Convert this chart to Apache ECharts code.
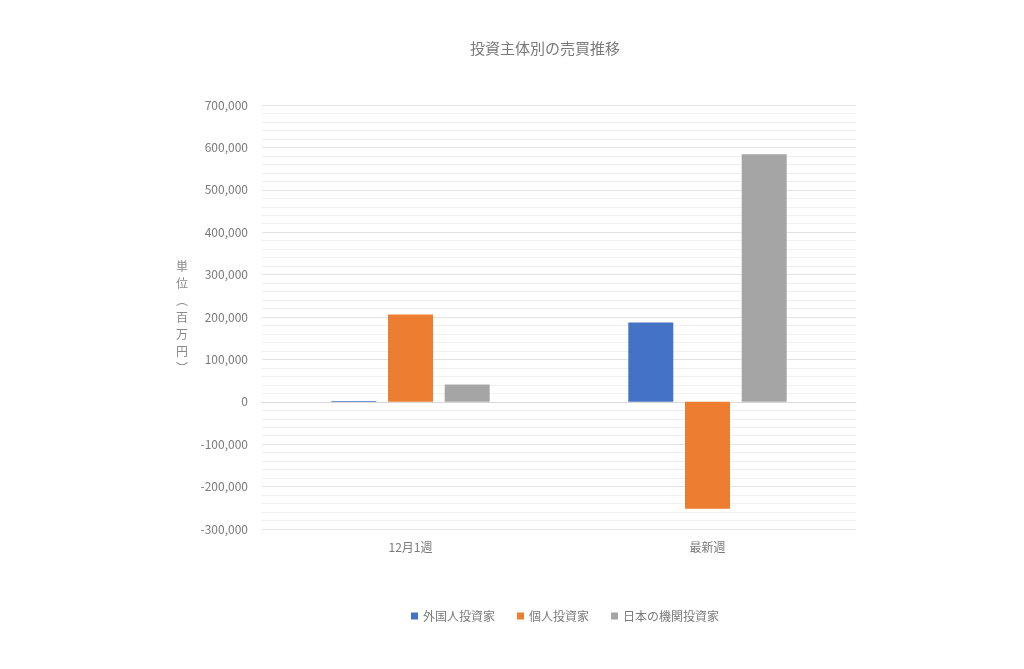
<!DOCTYPE html>
<html>
<head>
<meta charset="utf-8">
<script src="https://cdn.jsdelivr.net/npm/echarts@6/dist/echarts.min.js"></script>
<style>
  html, body { margin: 0; padding: 0; background: #fff; }
  #chart { width: 1024px; height: 669px; }
</style>
</head>
<body>
<div id="chart"></div>
<script>
const categories = ['12月1週', '最新週'];
const seriesNames = ['外国人投資家', '個人投資家', '日本の機関投資家'];
const foreignValues = [2000, 187000];
const individualValues = [206000, -252000];
const institutionValues = [41000, 584000];
const colors = ['#4472c4', '#ed7d31', '#a5a5a5'];

const font = '"Noto Sans CJK JP", "Noto Sans", sans-serif';
const textGray = '#7a7a7a';
const myChart = echarts.init(document.getElementById('chart'));

myChart.setOption({
  textStyle: { fontFamily: font },
  title: {
    text: '投資主体別の売買推移',
    left: 465,
    top: 36,
    textStyle: { fontSize: 15, fontWeight: 'normal', color: textGray, fontFamily: font }
  },
  legend: {
    bottom: 42,
    left: 406,
    itemWidth: 7,
    itemHeight: 7,
    itemGap: 22,
    icon: 'rect',
    textStyle: { fontSize: 12, color: textGray, fontFamily: font },
    data: seriesNames
  },
  grid: { left: 262, right: 168, top: 105, bottom: 140 },
  xAxis: {
    type: 'category',
    data: categories,
    axisLine: { onZero: true, lineStyle: { color: '#d9d9d9' } },
    axisTick: { show: false },
    axisLabel: { color: textGray, fontSize: 12, margin: 12, fontFamily: font },
    position: 'bottom'
  },
  yAxis: {
    type: 'value',
    min: -300000,
    max: 700000,
    interval: 100000,
    name: '単\n位\n︵\n百\n万\n円\n︶',
    nameLocation: 'middle',
    nameRotate: 0,
    nameGap: 74,
    nameTextStyle: { color: '#8a8a8a', fontSize: 12, lineHeight: 17, fontFamily: font },
    axisLine: { show: false },
    axisTick: { show: false },
    axisLabel: {
      color: textGray,
      fontSize: 12,
      margin: 14,
      fontFamily: font,
      formatter: v => v.toLocaleString('en-US')
    },
    splitLine: { lineStyle: { color: '#e3e3e3' } },
    minorTick: { show: false, splitNumber: 5 },
    minorSplitLine: { show: true, lineStyle: { color: '#f0f0f0' } }
  },
  series: [
    { name: seriesNames[0], type: 'bar', data: foreignValues, itemStyle: { color: colors[0] }, barWidth: 45, barGap: '26%' },
    { name: seriesNames[1], type: 'bar', data: individualValues, itemStyle: { color: colors[1] }, barWidth: 45, barGap: '26%' },
    { name: seriesNames[2], type: 'bar', data: institutionValues, itemStyle: { color: colors[2] }, barWidth: 45, barGap: '26%' }
  ]
});
</script>
</body>
</html>
